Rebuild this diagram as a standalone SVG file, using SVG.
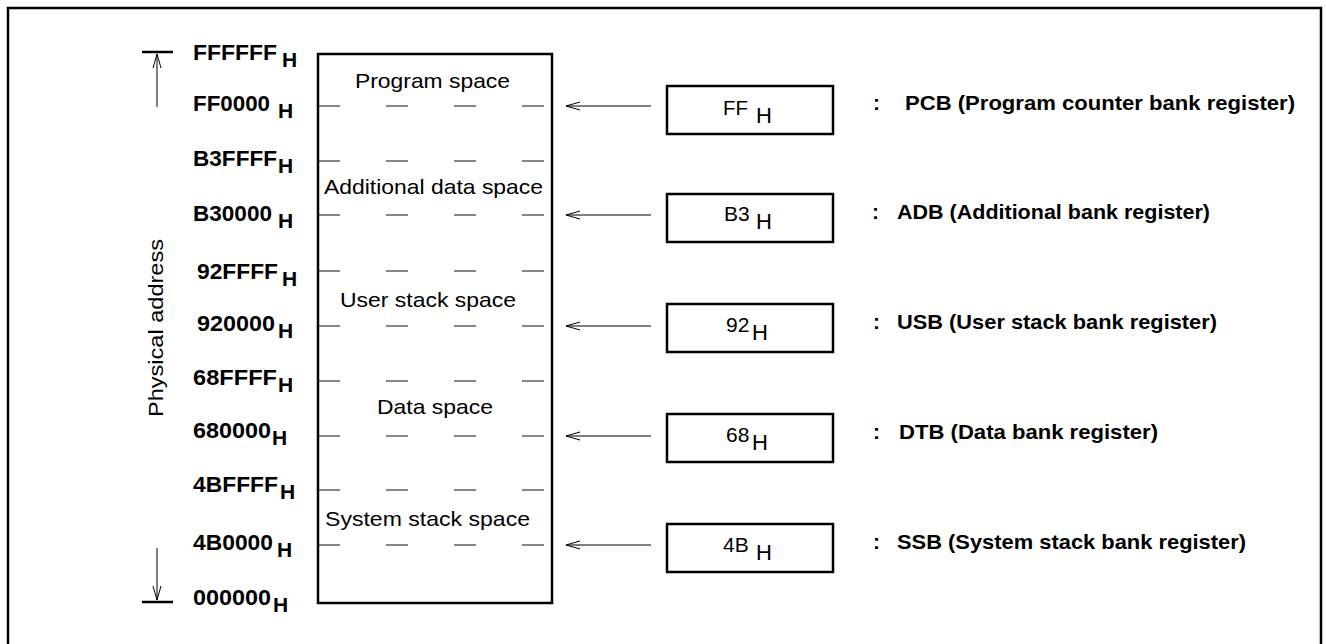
<svg xmlns="http://www.w3.org/2000/svg" width="1326" height="644" viewBox="0 0 1326 644">
  <style>
    text { font-family: "Liberation Sans", Arial, sans-serif; fill: #000; }
    .addr { font-size: 22px; font-weight: bold; }
    .sub { font-size: 21px; font-weight: bold; }
    .space { font-size: 21px; }
    .reg { font-size: 21px; }
    .regsub { font-size: 22px; }
    .desc { font-size: 21px; font-weight: bold; }
    .box { fill: #fff; stroke: #000; stroke-width: 2.5; }
    .frame { fill: none; stroke: #000; stroke-width: 2.5; }
    .dash { stroke: #111; stroke-width: 1.2; stroke-dasharray: 22 46; }
    .conn { stroke: #000; stroke-width: 1; fill: none; }
    .bar { stroke: #000; stroke-width: 2.5; }
  </style>
  <defs>
    <!-- open barb arrowhead, tip at the line end -->
    <marker id="open" viewBox="0 0 14 10" refX="14" refY="5" markerWidth="14" markerHeight="10" markerUnits="userSpaceOnUse" orient="auto-start-reverse">
      <path d="M0,1 L14,5 L0,9" fill="none" stroke="#000" stroke-width="1"/>
    </marker>
  </defs>

  <!-- outer frame -->
  <rect class="frame" x="8" y="8" width="1313" height="660"/>

  <!-- address axis -->
  <g id="axis">
    <line class="bar" x1="142" y1="52" x2="173" y2="52"/>
    <line class="bar" x1="142" y1="602" x2="173" y2="602"/>
    <line class="conn" x1="157" y1="54" x2="157" y2="107" marker-start="url(#open)"/>
    <line class="conn" x1="157" y1="548" x2="157" y2="600" marker-end="url(#open)"/>
    <text class="space" transform="translate(163,328) rotate(-90)" text-anchor="middle" textLength="178" lengthAdjust="spacingAndGlyphs">Physical address</text>
  </g>

  <!-- address labels -->
  <g id="addresses">
    <text class="addr" x="193" y="60" textLength="84" lengthAdjust="spacingAndGlyphs">FFFFFF</text><text class="sub" x="282" y="67">H</text>
    <text class="addr" x="193" y="111" textLength="77" lengthAdjust="spacingAndGlyphs">FF0000</text><text class="sub" x="278" y="118">H</text>
    <text class="addr" x="193" y="166" textLength="84" lengthAdjust="spacingAndGlyphs">B3FFFF</text><text class="sub" x="278" y="173">H</text>
    <text class="addr" x="193" y="221" textLength="79" lengthAdjust="spacingAndGlyphs">B30000</text><text class="sub" x="278" y="228">H</text>
    <text class="addr" x="197" y="279" textLength="81" lengthAdjust="spacingAndGlyphs">92FFFF</text><text class="sub" x="282" y="286">H</text>
    <text class="addr" x="197" y="331" textLength="78" lengthAdjust="spacingAndGlyphs">920000</text><text class="sub" x="278" y="338">H</text>
    <text class="addr" x="193" y="385" textLength="84" lengthAdjust="spacingAndGlyphs">68FFFF</text><text class="sub" x="278" y="392">H</text>
    <text class="addr" x="193" y="438" textLength="78" lengthAdjust="spacingAndGlyphs">680000</text><text class="sub" x="272" y="445">H</text>
    <text class="addr" x="193" y="492" textLength="85" lengthAdjust="spacingAndGlyphs">4BFFFF</text><text class="sub" x="280" y="499">H</text>
    <text class="addr" x="193" y="550" textLength="80" lengthAdjust="spacingAndGlyphs">4B0000</text><text class="sub" x="277" y="557">H</text>
    <text class="addr" x="193" y="605" textLength="78" lengthAdjust="spacingAndGlyphs">000000</text><text class="sub" x="273" y="612">H</text>
  </g>

  <!-- memory map -->
  <g id="memory">
    <rect class="box" x="318" y="54" width="234" height="549"/>
    <line class="dash" x1="318" y1="106" x2="552" y2="106"/>
    <line class="dash" x1="318" y1="161" x2="552" y2="161"/>
    <line class="dash" x1="318" y1="215" x2="552" y2="215"/>
    <line class="dash" x1="318" y1="271" x2="552" y2="271"/>
    <line class="dash" x1="318" y1="326" x2="552" y2="326"/>
    <line class="dash" x1="318" y1="381" x2="552" y2="381"/>
    <line class="dash" x1="318" y1="436" x2="552" y2="436"/>
    <line class="dash" x1="318" y1="490" x2="552" y2="490"/>
    <line class="dash" x1="318" y1="545" x2="552" y2="545"/>
    <text class="space" x="355" y="88" textLength="155" lengthAdjust="spacingAndGlyphs">Program space</text>
    <text class="space" x="324" y="194" textLength="219" lengthAdjust="spacingAndGlyphs">Additional data space</text>
    <text class="space" x="340" y="307" textLength="176" lengthAdjust="spacingAndGlyphs">User stack space</text>
    <text class="space" x="377" y="414" textLength="116" lengthAdjust="spacingAndGlyphs">Data space</text>
    <text class="space" x="325" y="526" textLength="205" lengthAdjust="spacingAndGlyphs">System stack space</text>
  </g>

  <!-- bank registers -->
  <g id="pcb">
    <rect class="box" x="667" y="86" width="166" height="48"/>
    <text class="reg" x="723" y="115" textLength="25" lengthAdjust="spacingAndGlyphs">FF</text><text class="regsub" x="756" y="123">H</text>
    <text class="desc" x="873" y="110">:</text>
    <text class="desc" x="905" y="110" textLength="390" lengthAdjust="spacingAndGlyphs">PCB (Program counter bank register)</text>
  </g>
  <g id="adb">
    <rect class="box" x="667" y="194" width="166" height="48"/>
    <text class="reg" x="724" y="221">B3</text><text class="regsub" x="756" y="229">H</text>
    <text class="desc" x="872" y="219">:</text>
    <text class="desc" x="897" y="219" textLength="313" lengthAdjust="spacingAndGlyphs">ADB (Additional bank register)</text>
  </g>
  <g id="usb">
    <rect class="box" x="667" y="304" width="166" height="48"/>
    <text class="reg" x="726" y="332">92</text><text class="regsub" x="752" y="340">H</text>
    <text class="desc" x="873" y="329">:</text>
    <text class="desc" x="897" y="329" textLength="320" lengthAdjust="spacingAndGlyphs">USB (User stack bank register)</text>
  </g>
  <g id="dtb">
    <rect class="box" x="667" y="414" width="166" height="48"/>
    <text class="reg" x="726" y="442">68</text><text class="regsub" x="752" y="450">H</text>
    <text class="desc" x="873" y="439">:</text>
    <text class="desc" x="899" y="439" textLength="259" lengthAdjust="spacingAndGlyphs">DTB (Data bank register)</text>
  </g>
  <g id="ssb">
    <rect class="box" x="667" y="524" width="166" height="48"/>
    <text class="reg" x="723" y="552">4B</text><text class="regsub" x="756" y="560">H</text>
    <text class="desc" x="873" y="549">:</text>
    <text class="desc" x="897" y="549" textLength="349" lengthAdjust="spacingAndGlyphs">SSB (System stack bank register)</text>
  </g>

  <!-- connectors: register to bank boundary -->
  <g id="connectors">
    <line class="conn" x1="566" y1="106" x2="651" y2="106" marker-start="url(#open)"/>
    <line class="conn" x1="566" y1="215" x2="651" y2="215" marker-start="url(#open)"/>
    <line class="conn" x1="566" y1="326" x2="651" y2="326" marker-start="url(#open)"/>
    <line class="conn" x1="566" y1="436" x2="651" y2="436" marker-start="url(#open)"/>
    <line class="conn" x1="566" y1="545" x2="651" y2="545" marker-start="url(#open)"/>
  </g>
</svg>
